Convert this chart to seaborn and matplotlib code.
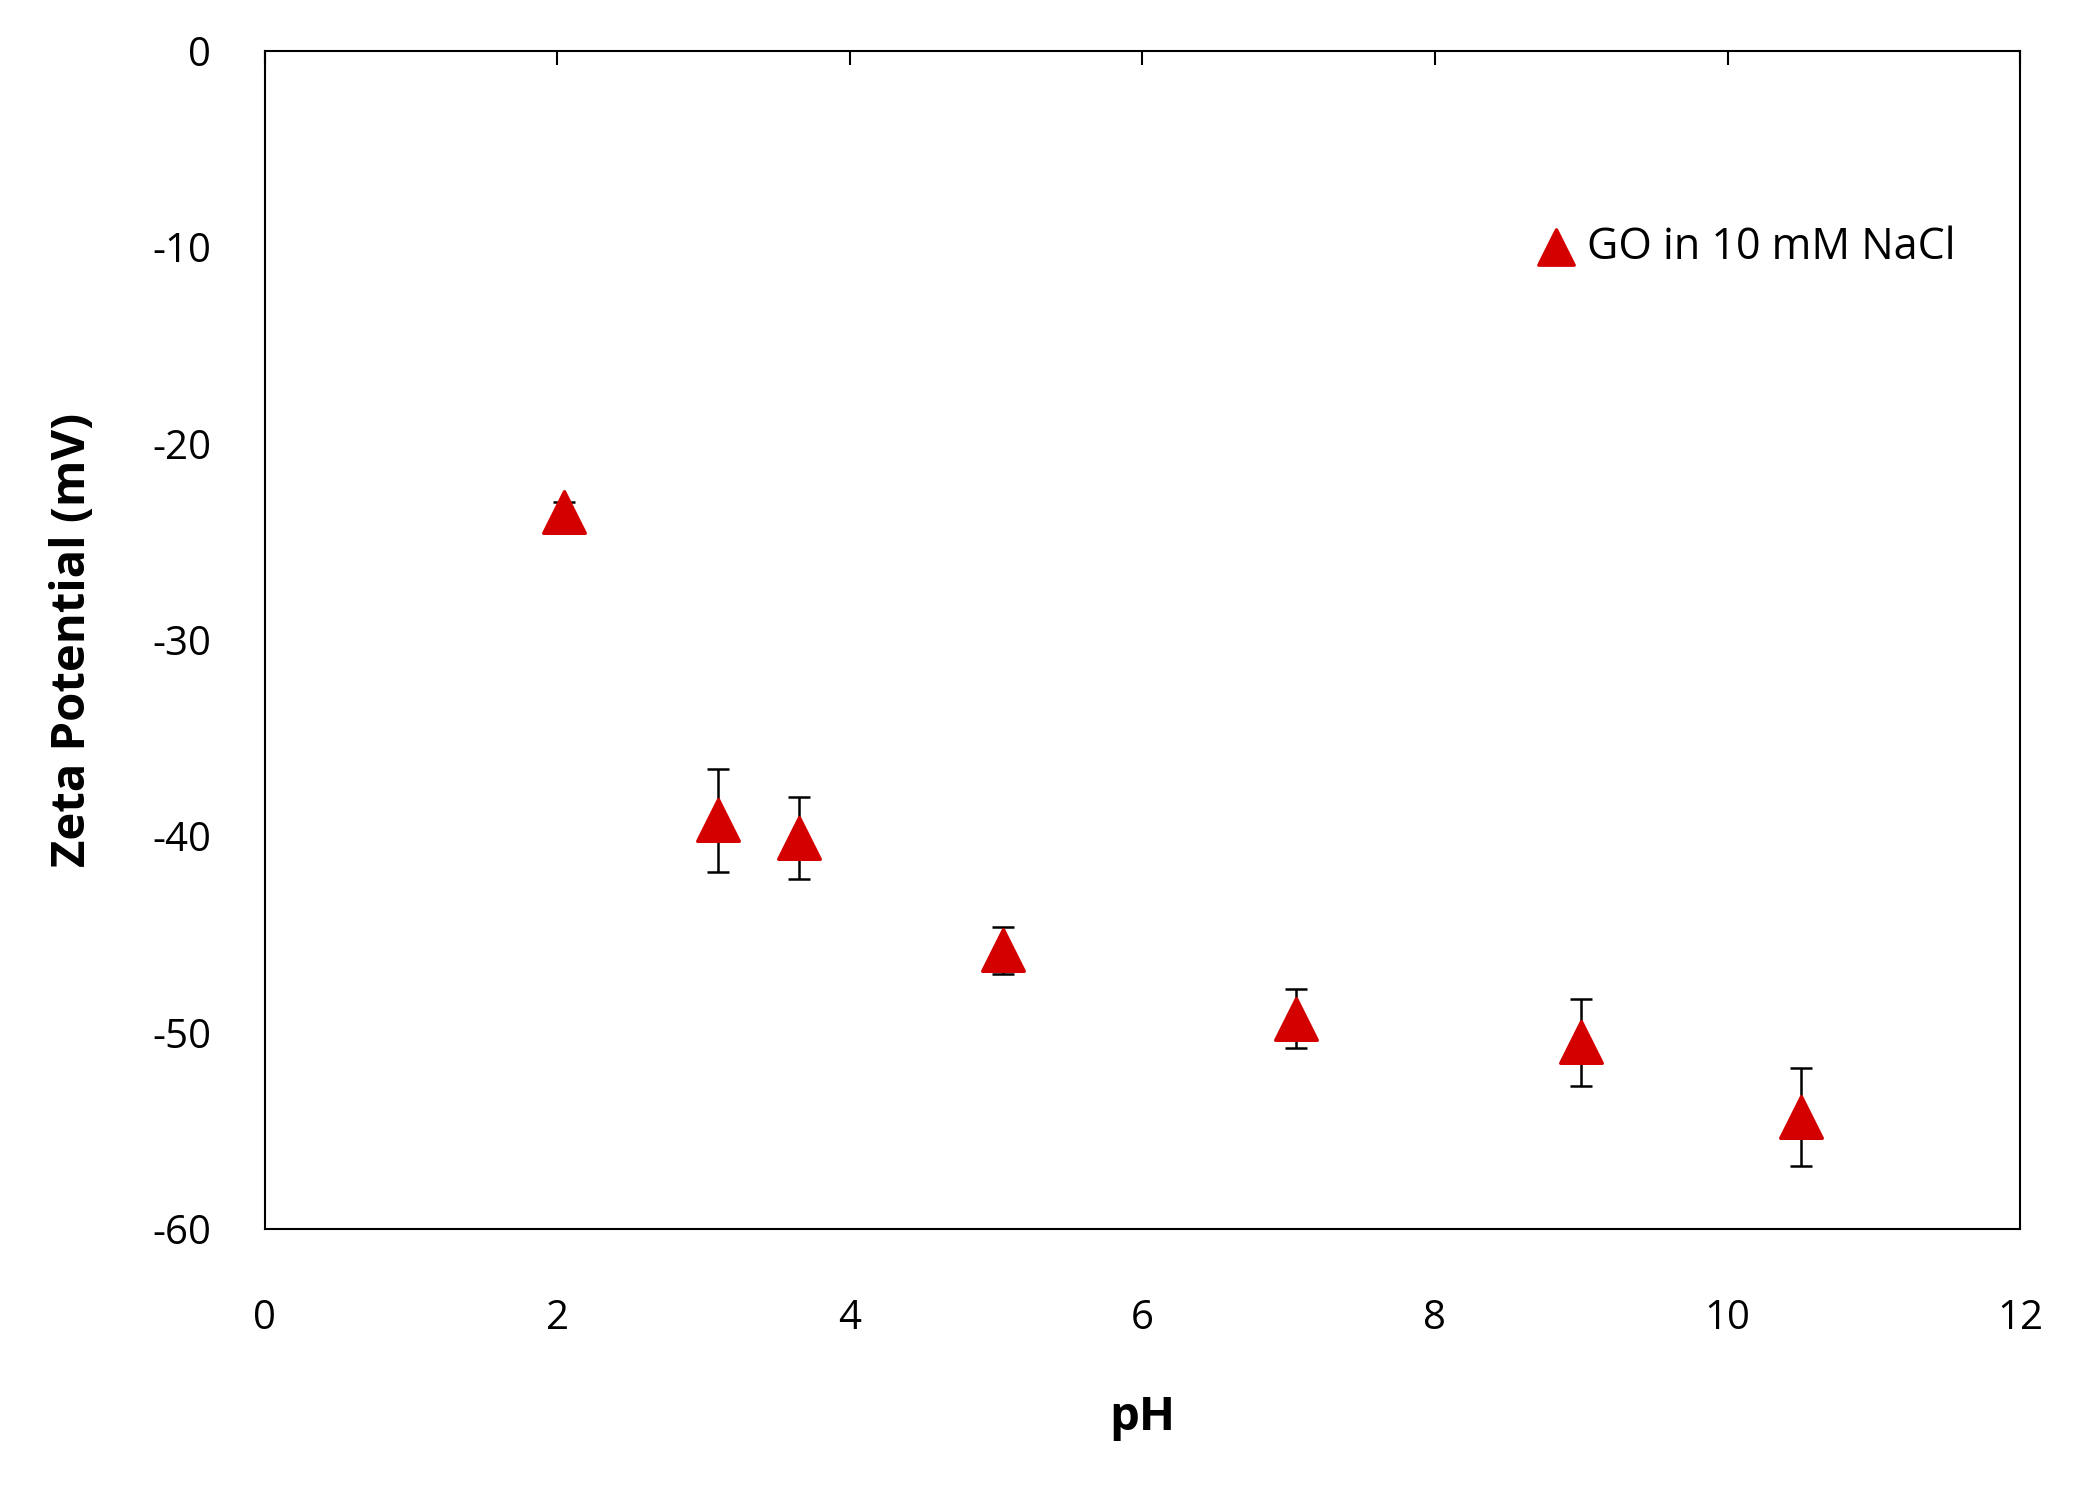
import numpy as np
import pandas as pd
import matplotlib
matplotlib.use("Agg")
import matplotlib.pyplot as plt
import seaborn as sns

ph = [2.05, 3.1, 3.65, 5.05, 7.05, 9.0, 10.5]
zeta = [-23.5, -39.2, -40.1, -45.8, -49.3, -50.5, -54.3]
err = [0.5, 2.6, 2.1, 1.2, 1.5, 2.2, 2.5]

sns.set_style("white")
plt.rcParams['font.family'] = ['Open Sans', 'DejaVu Sans']
plt.rcParams['axes.unicode_minus'] = False
plt.rcParams['text.color'] = 'black'
plt.rcParams['axes.labelcolor'] = 'black'
plt.rcParams['xtick.color'] = 'black'
plt.rcParams['ytick.color'] = 'black'

df = pd.DataFrame({"pH": ph, "zeta": zeta, "err": err})

fig = plt.figure(figsize=(20.73, 14.95), dpi=100)
ax = fig.add_axes([0.1276, 0.178, 0.8469, 0.788])

ax.errorbar(df["pH"], df["zeta"], yerr=df["err"], fmt="none",
            ecolor="black", elinewidth=1.8, capsize=8, capthick=1.8, zorder=2)
sns.scatterplot(data=df, x="pH", y="zeta", marker="^", s=900,
                color="#d40000", edgecolor="#d40000", ax=ax, zorder=3,
                label="GO in 10 mM NaCl")

ax.set_xlim(0, 12)
ax.set_ylim(-60, 0)
ax.set_xticks(range(0, 13, 2))
ax.set_yticks(range(-60, 1, 10))
ax.tick_params(axis="x", direction="in", top=True, bottom=False,
               labeltop=False, labelbottom=True, length=10, width=1.5,
               labelsize=29, pad=50)
ax.tick_params(axis="y", left=False, labelsize=29, pad=35)
for sp in ax.spines.values():
    sp.set_linewidth(1.5)
    sp.set_color("black")

ax.set_xlabel("pH", fontsize=34, fontweight="bold", labelpad=40)
ax.set_ylabel("Zeta Potential (mV)", fontsize=34, fontweight="bold", labelpad=40)

ax.legend(loc="upper right", bbox_to_anchor=(0.985, 0.885), frameon=False,
          fontsize=31, handletextpad=-0.3, markerscale=0.85)

fig.savefig("out.png", dpi=100)
